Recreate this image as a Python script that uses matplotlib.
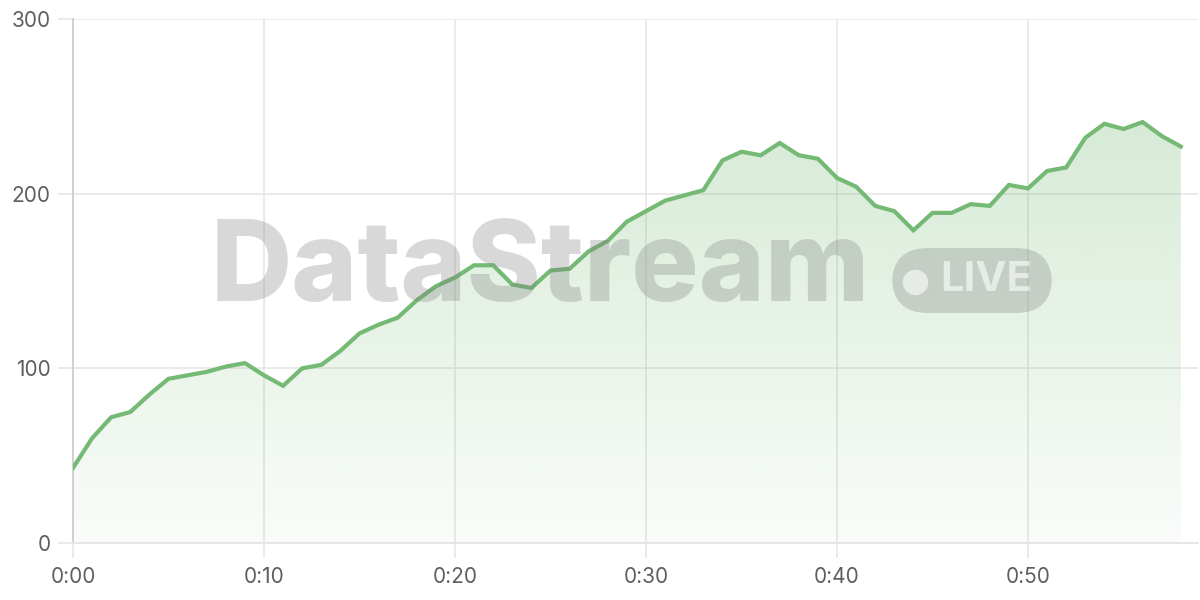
import numpy as np
import matplotlib
matplotlib.use("Agg")
from matplotlib import pyplot as plt
from matplotlib.patches import FancyBboxPatch, Polygon
from matplotlib.colors import to_rgb

# minutes since start, one sample per minute
minutes = list(range(59))
values = [43, 60, 72, 75, 85, 94, 96, 98, 101, 103,
          96, 90, 100, 102, 110, 120, 125, 129, 139, 147,
          152, 159, 159, 148, 146, 156, 157, 167, 173, 184,
          190, 196, 199, 202, 219, 224, 222, 229, 222, 220,
          209, 204, 193, 190, 179, 189, 189, 194, 193, 205,
          203, 213, 215, 232, 240, 237, 241, 233, 227]
x_ticks = [0, 10, 20, 30, 40, 50]
x_labels = ["0:00", "0:10", "0:20", "0:30", "0:40", "0:50"]
y_ticks = [0, 100, 200, 300]

LINE = "#74b974"
GRID = "#e6e6e6"
TXT = "#5f5f5f"

plt.rcParams['font.family'] = ['Inter', 'DejaVu Sans']

fig = plt.figure(figsize=(12, 6), dpi=100)
ax = fig.add_axes([73 / 1200, 57 / 600, 1125 / 1200, 524 / 600])
ax.set_xlim(0, 58.9)
ax.set_ylim(0, 300)

# gradient fill under the line
x = np.array(minutes)
y = np.array(values)
rgb = to_rgb(LINE)
grad = np.zeros((256, 1, 4))
grad[:, 0, :3] = rgb
grad[:, 0, 3] = np.linspace(0.04, 0.30, 256)
im = ax.imshow(grad, extent=[0, x[-1], 0, 250], origin="lower",
               aspect="auto", zorder=1)
poly = Polygon(np.column_stack([np.r_[x, x[-1], x[0]], np.r_[y, 0, 0]]),
               closed=True, transform=ax.transData, facecolor="none",
               edgecolor="none")
ax.add_patch(poly)
im.set_clip_path(poly)

ax.plot(x, y, color=LINE, lw=3, zorder=3, solid_joinstyle="miter")

ax.set_xticks(x_ticks, x_labels)
ax.set_yticks(y_ticks)
ax.grid(True, color=GRID, lw=1.2, zorder=0)
ax.set_axisbelow(True)
ax.tick_params(axis="both", colors=GRID, labelcolor=TXT, labelsize=15,
               length=11, width=1.2)
ax.tick_params(axis="x", pad=6)
ax.tick_params(axis="y", pad=5)
for s in ["top", "right"]:
    ax.spines[s].set_visible(False)
ax.spines["left"].set_color("#d0d0d0")
ax.spines["left"].set_linewidth(1.4)
ax.spines["bottom"].set_color(GRID)
ax.spines["bottom"].set_linewidth(1.4)

# watermark
fig.text(540 / 1200, 1 - 271 / 600, "DataStream", ha="center", va="center",
         fontsize=81, fontweight="heavy", color="#808080", alpha=0.3,
         family=["Inter", "DejaVu Sans"], zorder=10)
badge = FancyBboxPatch((892 / 1200, 1 - 313 / 600), 160 / 1200, 65 / 600,
                       boxstyle="round,pad=0,rounding_size=0.03",
                       transform=fig.transFigure, facecolor="#808080",
                       edgecolor="none", alpha=0.3, zorder=10,
                       mutation_aspect=2)
fig.patches.append(badge)
fig.text(915 / 1200, 1 - 281 / 600, "\u25CF", ha="center", va="center",
         fontsize=24, color="white", alpha=0.6, zorder=11,
         family="DejaVu Sans")
fig.text(986 / 1200, 1 - 280 / 600, "LIVE", ha="center", va="center",
         fontsize=30, fontweight="bold", color="white", alpha=0.6, zorder=11,
         family=["Inter", "DejaVu Sans"])

fig.savefig("out.png", dpi=100)
